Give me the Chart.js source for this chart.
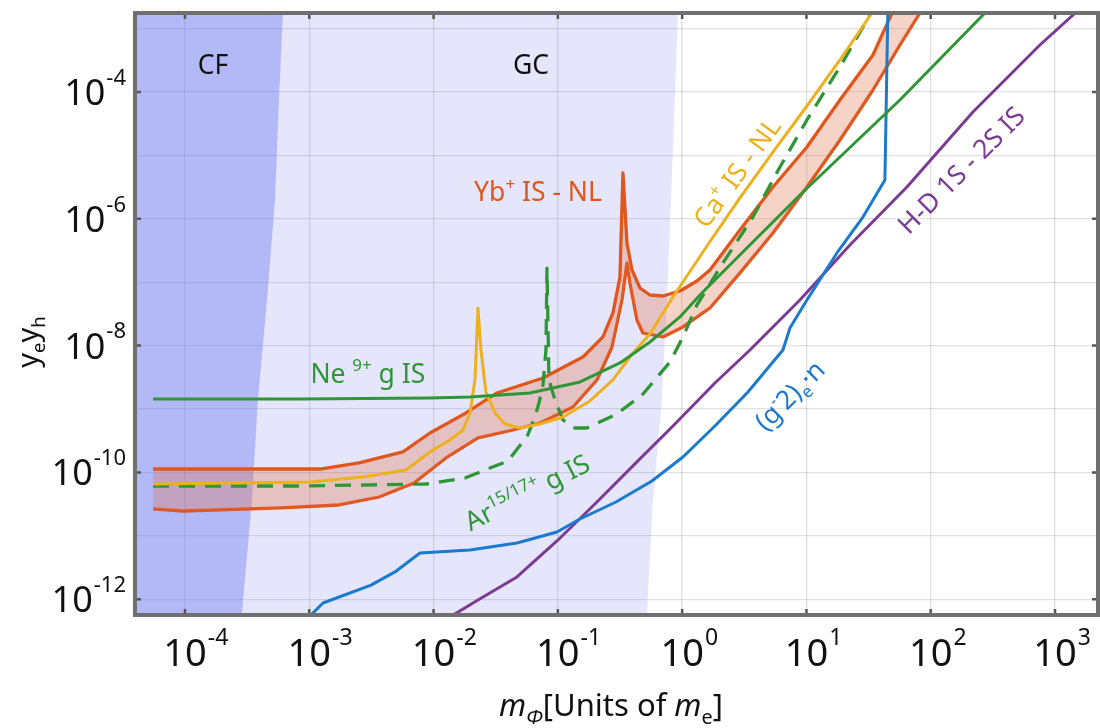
<!DOCTYPE html>
<html>
<head>
<meta charset="utf-8">
<script src="https://cdn.jsdelivr.net/npm/chart.js@4.4.0/dist/chart.umd.min.js"></script>
<style>
  html, body { margin: 0; padding: 0; background: #fff; }
  #wrap { width: 1100px; height: 728px; }
</style>
</head>
<body>
<div id="wrap"><canvas id="chart" width="1100" height="728"></canvas></div>
<script>
// axis limits
const xMin = 3.96e-5, xMax = 2218;
const yMin = 5.63e-13, yMax = 1.762e-3;

// ticks and grid
const xTicks = [1e-4, 1e-3, 1e-2, 1e-1, 1, 10, 100, 1000];
const xTickExp = ['-4', '-3', '-2', '-1', '0', '1', '2', '3'];
const yGrid = [1e-3, 1e-4, 1e-5, 1e-6, 1e-7, 1e-8, 1e-9, 1e-10, 1e-11, 1e-12];
const yTicks = [1e-4, 1e-6, 1e-8, 1e-10, 1e-12];
const yTickExp = ['-4', '-6', '-8', '-10', '-12'];

// shaded regions (right-hand boundary, filled to the left / top)
const gcEdge = [
  { x: 3e-5, y: 4.7e-13 }, { x: 0.518, y: 4.7e-13 }, { x: 0.582, y: 3.67e-11 },
  { x: 0.687, y: 1.39e-9 }, { x: 0.755, y: 5.24e-8 }, { x: 0.843, y: 1.22e-5 },
  { x: 0.925, y: 1.762e-3 }, { x: 0.93, y: 2.5e-3 },
];
const cfEdge = [
  { x: 3e-5, y: 4.7e-13 }, { x: 2.84e-4, y: 4.7e-13 }, { x: 3.46e-4, y: 3.67e-11 },
  { x: 3.86e-4, y: 1.39e-9 }, { x: 4.57e-4, y: 5.24e-8 }, { x: 5.30e-4, y: 1.98e-6 },
  { x: 5.70e-4, y: 7.48e-5 }, { x: 6.14e-4, y: 1.762e-3 }, { x: 6.2e-4, y: 2.5e-3 },
];

// Yb+ IS - NL band
const ybUpper = [
  { x: 5.53e-5, y: 1.13e-10 }, { x: 2.30e-4, y: 1.13e-10 }, { x: 1.22e-3, y: 1.13e-10 },
  { x: 2.51e-3, y: 1.41e-10 }, { x: 5.67e-3, y: 2.10e-10 }, { x: 9.35e-3, y: 4.18e-10 },
  { x: 0.01822, y: 8.65e-10 }, { x: 0.03236, y: 1.79e-9 }, { x: 0.07588, y: 3.08e-9 },
  { x: 0.1592, y: 6.61e-9 }, { x: 0.2306, y: 1.37e-8 }, { x: 0.2774, y: 3.27e-8 },
  { x: 0.316, y: 1.21e-7 }, { x: 0.334, y: 5.28e-6 }, { x: 0.3597, y: 4.15e-7 },
  { x: 0.3946, y: 1.56e-7 }, { x: 0.4575, y: 8.10e-8 }, { x: 0.5507, y: 6.28e-8 },
  { x: 0.7006, y: 6.06e-8 }, { x: 0.960, y: 7.27e-8 }, { x: 1.315, y: 1.045e-7 },
  { x: 1.674, y: 1.56e-7 }, { x: 2.917, y: 6.66e-7 }, { x: 5.377, y: 3.17e-6 },
  { x: 10.09, y: 1.357e-5 }, { x: 18.6, y: 7.48e-5 }, { x: 34.28, y: 3.83e-4 },
  { x: 48.8, y: 1.762e-3 }, { x: 84.9, y: 8.4e-3 },
];
const ybLower = [
  { x: 5.53e-5, y: 2.65e-11 }, { x: 9.63e-5, y: 2.46e-11 }, { x: 5.81e-4, y: 2.75e-11 },
  { x: 1.73e-3, y: 3.06e-11 }, { x: 3.64e-3, y: 4.09e-11 }, { x: 6.96e-3, y: 6.81e-11 },
  { x: 0.01258, y: 1.69e-10 }, { x: 0.02276, y: 3.49e-10 }, { x: 0.04352, y: 4.66e-10 },
  { x: 0.07178, y: 6.01e-10 }, { x: 0.1322, y: 1.075e-9 }, { x: 0.2063, y: 2.87e-9 },
  { x: 0.2723, y: 9.50e-9 }, { x: 0.328, y: 5.24e-8 }, { x: 0.3597, y: 2.01e-7 },
  { x: 0.3802, y: 9.71e-8 }, { x: 0.4329, y: 2.53e-8 }, { x: 0.4838, y: 1.58e-8 },
  { x: 0.7006, y: 1.37e-8 }, { x: 1.015, y: 1.97e-8 }, { x: 1.674, y: 3.92e-8 },
  { x: 2.917, y: 1.40e-7 }, { x: 5.377, y: 5.97e-7 }, { x: 10.09, y: 3.17e-6 },
  { x: 18.6, y: 1.75e-5 }, { x: 34.28, y: 1.075e-4 }, { x: 56.52, y: 5.51e-4 },
  { x: 81.87, y: 1.762e-3 }, { x: 140, y: 8.4e-3 },
];

// Ca+ IS - NL
const caLine = [
  { x: 5.53e-5, y: 6.56e-11 }, { x: 1.01e-3, y: 7.06e-11 }, { x: 2.70e-3, y: 8.46e-11 },
  { x: 6.00e-3, y: 1.09e-10 }, { x: 9.35e-3, y: 2.10e-10 }, { x: 0.01354, y: 3.24e-10 },
  { x: 0.01724, y: 4.66e-10 }, { x: 0.01963, y: 8.65e-10 }, { x: 0.02153, y: 2.87e-9 },
  { x: 0.02276, y: 3.92e-8 }, { x: 0.02406, y: 8.52e-9 }, { x: 0.02639, y: 1.85e-9 },
  { x: 0.03119, y: 8.65e-10 }, { x: 0.03752, y: 5.80e-10 }, { x: 0.04955, y: 5.01e-10 },
  { x: 0.07178, y: 5.80e-10 }, { x: 0.1099, y: 7.48e-10 }, { x: 0.1812, y: 1.34e-9 },
  { x: 0.2774, y: 2.87e-9 }, { x: 0.4019, y: 7.64e-9 }, { x: 0.5507, y: 1.52e-8 },
  { x: 0.8433, y: 5.84e-8 }, { x: 1.583, y: 3.72e-7 }, { x: 2.917, y: 2.13e-6 },
  { x: 5.377, y: 1.13e-5 }, { x: 10.09, y: 6.01e-5 }, { x: 18.6, y: 3.20e-4 },
  { x: 36.24, y: 2.19e-3 },
];

// Ar15/17+ g IS (dashed)
const arLine = [
  { x: 5.53e-5, y: 6.10e-11 }, { x: 8.42e-4, y: 6.10e-11 }, { x: 8.69e-3, y: 6.56e-11 },
  { x: 0.01126, y: 7.06e-11 }, { x: 0.01789, y: 8.16e-11 }, { x: 0.02842, y: 1.17e-10 },
  { x: 0.03967, y: 1.51e-10 }, { x: 0.04775, y: 2.43e-10 }, { x: 0.0564, y: 3.62e-10 },
  { x: 0.06543, y: 7.48e-10 }, { x: 0.07046, y: 1.24e-9 }, { x: 0.07588, y: 2.39e-9 },
  { x: 0.08022, y: 8.52e-9 }, { x: 0.08172, y: 1.67e-7 }, { x: 0.08482, y: 2.87e-9 },
  { x: 0.09477, y: 1.39e-9 }, { x: 0.1099, y: 6.71e-10 }, { x: 0.1373, y: 5.01e-10 },
  { x: 0.1714, y: 5.01e-10 }, { x: 0.2989, y: 8.34e-10 }, { x: 0.4838, y: 1.72e-9 },
  { x: 0.7977, y: 5.51e-9 }, { x: 1.015, y: 1.37e-8 }, { x: 1.315, y: 4.37e-8 },
  { x: 2.129, y: 2.01e-7 }, { x: 3.712, y: 1.067e-6 }, { x: 6.122, y: 6.56e-6 },
  { x: 10.09, y: 3.62e-5 }, { x: 18.6, y: 2.48e-4 }, { x: 34.9, y: 2.11e-3 },
];

// Ne9+ g IS
const neLine = [
  { x: 5.53e-5, y: 1.44e-9 }, { x: 8.42e-4, y: 1.44e-9 }, { x: 9.35e-3, y: 1.49e-9 },
  { x: 0.0196, y: 1.55e-9 }, { x: 0.0596, y: 1.79e-9 }, { x: 0.151, y: 2.67e-9 },
  { x: 0.316, y: 5.32e-9 }, { x: 0.551, y: 1.14e-8 }, { x: 0.96, y: 2.83e-8 },
  { x: 1.39, y: 6.28e-8 }, { x: 8.87, y: 2.37e-6 }, { x: 56.5, y: 7.48e-5 },
  { x: 273, y: 1.762e-3 }, { x: 316, y: 2.35e-3 },
];

// (g-2)e . n
const g2Line = [
  { x: 9.40e-4, y: 4.70e-13 }, { x: 1.29e-3, y: 8.71e-13 }, { x: 3.14e-3, y: 1.67e-12 },
  { x: 4.89e-3, y: 2.69e-12 }, { x: 7.77e-3, y: 5.36e-12 }, { x: 0.01963, y: 5.97e-12 },
  { x: 0.04688, y: 7.70e-12 }, { x: 0.09835, y: 1.15e-11 }, { x: 0.1506, y: 1.84e-11 },
  { x: 0.2934, y: 3.41e-11 }, { x: 0.5715, y: 7.32e-11 }, { x: 1.015, y: 1.75e-10 },
  { x: 1.870, y: 5.59e-10 }, { x: 3.384, y: 1.85e-9 }, { x: 6.471, y: 8.52e-9 },
  { x: 7.367, y: 1.895e-8 }, { x: 10.09, y: 5.24e-8 }, { x: 17.6, y: 2.89e-7 },
  { x: 28.49, y: 1.067e-6 }, { x: 42.81, y: 4.09e-6 }, { x: 45.27, y: 2.35e-3 },
];

// H-D 1S - 2S IS
const hdLine = [
  { x: 0.01236, y: 4.70e-13 }, { x: 0.02276, y: 9.71e-13 }, { x: 0.04688, y: 2.24e-12 },
  { x: 0.09835, y: 8.28e-12 }, { x: 0.2024, y: 3.29e-11 }, { x: 0.4249, y: 1.41e-10 },
  { x: 0.8752, y: 5.80e-10 }, { x: 1.836, y: 2.57e-9 }, { x: 3.512, y: 8.52e-9 },
  { x: 8.866, y: 5.24e-8 }, { x: 22.39, y: 3.86e-7 }, { x: 64.35, y: 3.17e-6 },
  { x: 218.6, y: 4.84e-5 }, { x: 755.9, y: 5.51e-4 }, { x: 1677, y: 2.27e-3 },
];

const ORANGE = '#e0561c';
const YELLOW = '#edb120';
const GREEN = '#2f9637';
const BLUE = '#1a7acb';
const PURPLE = '#7b3b93';
const FONT = '"Noto Sans", "Open Sans", sans-serif';

// parts: [text, mode (0 normal, 1 sup, 2 sub), italic]
const curveLabels = [
  { parts: [['CF', 0]], x: 1.68e-4, y: 2.67e-4, color: '#111', angle: 0 },
  { parts: [['GC', 0]], x: 0.0608, y: 2.67e-4, color: '#111', angle: 0 },
  { parts: [['Yb', 0], ['+', 1], [' IS - NL', 0]], x: 0.0692, y: 2.65e-6, color: ORANGE, angle: 0 },
  { parts: [['Ne ', 0], ['9+', 1], [' g IS', 0]], x: 2.96e-3, y: 3.70e-9, color: GREEN, angle: 0 },
  { parts: [['Ca', 0], ['+', 1], [' IS - NL', 0]], x: 2.75, y: 5.4e-6, color: YELLOW, angle: -54 },
  { parts: [['Ar', 0], ['15/17+', 1], [' g IS', 0]], x: 0.0564, y: 4.91e-11, color: GREEN, angle: -27 },
  { parts: [['(g', 0], ['-', 1], ['2)', 0], ['e', 2], ['\u00b7n', 0]], x: 7.3, y: 1.66e-9, color: BLUE, angle: -45 },
  { parts: [['H-D 1S - 2S IS', 0]], x: 175, y: 5.89e-6, color: PURPLE, angle: -45 },
];

function drawRich(ctx, parts, cx, cy, size, color, angle) {
  const small = size * 0.64;
  const fontOf = (mode, it) => `${it ? 'italic ' : ''}${mode ? small : size}px ${FONT}`;
  ctx.save();
  ctx.translate(cx, cy);
  ctx.rotate(angle * Math.PI / 180);
  ctx.fillStyle = color;
  ctx.textAlign = 'left';
  ctx.textBaseline = 'alphabetic';
  let total = 0;
  const widths = parts.map(([t, mode, it]) => {
    ctx.font = fontOf(mode, it);
    const w = ctx.measureText(t).width;
    total += w;
    return w;
  });
  let x = -total / 2;
  const base = size * 0.36;
  parts.forEach(([t, mode, it], i) => {
    ctx.font = fontOf(mode, it);
    const dy = mode === 1 ? -size * 0.42 : mode === 2 ? size * 0.24 : 0;
    ctx.fillText(t, x, base + dy);
    x += widths[i];
  });
  ctx.restore();
}

function drawPow(ctx, exp, x, baseline, align, size) {
  const sup = Math.round(size * 0.6);
  ctx.font = `${size}px ${FONT}`;
  const wb = ctx.measureText('10').width;
  ctx.font = `${sup}px ${FONT}`;
  const we = ctx.measureText(exp).width;
  const left = align === 'center' ? x - wb / 2 : x - wb - 1 - we;
  ctx.fillStyle = '#111';
  ctx.textAlign = 'left';
  ctx.textBaseline = 'alphabetic';
  ctx.font = `${size}px ${FONT}`;
  ctx.fillText('10', left, baseline);
  ctx.font = `${sup}px ${FONT}`;
  ctx.fillText(exp, left + wb + 1, baseline - size * 0.56);
}

const decorPlugin = {
  id: 'decor',
  afterDraw(chart) {
    const { ctx, chartArea: a, scales: { x, y } } = chart;
    ctx.save();

    // tick marks
    ctx.strokeStyle = '#555';
    ctx.lineWidth = 2.5;
    ctx.beginPath();
    xTicks.forEach((v) => {
      const p = x.getPixelForValue(v);
      ctx.moveTo(p, a.bottom); ctx.lineTo(p, a.bottom - 6);
      ctx.moveTo(p, a.top); ctx.lineTo(p, a.top + 6);
    });
    yTicks.forEach((v) => {
      const p = y.getPixelForValue(v);
      ctx.moveTo(a.left, p); ctx.lineTo(a.left + 6, p);
      ctx.moveTo(a.right, p); ctx.lineTo(a.right - 6, p);
    });
    ctx.stroke();

    // frame
    ctx.strokeStyle = '#6f6f6f';
    ctx.lineWidth = 4;
    ctx.strokeRect(a.left, a.top, a.right - a.left, a.bottom - a.top);

    // tick labels
    xTicks.forEach((v, i) => drawPow(ctx, xTickExp[i], x.getPixelForValue(v), a.bottom + 51, 'center', 38));
    yTicks.forEach((v, i) => drawPow(ctx, yTickExp[i], a.left - 9, y.getPixelForValue(v) + 13, 'right', 36));

    // axis titles
    drawRich(ctx, [['y', 0], ['e', 2], ['y', 0], ['h', 2]], 28, 342, 29, '#111', -90);
    drawRich(ctx, [['m', 0, true], ['\u03a6', 2, true], ['[Units of ', 0], ['m', 0, true], ['e', 2], [']', 0]],
      611, a.bottom + 90, 31, '#111', 0);

    // curve and region labels
    curveLabels.forEach((l) => {
      drawRich(ctx, l.parts, x.getPixelForValue(l.x), y.getPixelForValue(l.y), 26.5, l.color, l.angle);
    });
    ctx.restore();
  },
};

const lineDs = (data, color, extra) => Object.assign({
  data,
  borderColor: color,
  borderWidth: 3,
  pointRadius: 0,
  pointHoverRadius: 0,
  tension: 0,
  fill: false,
  borderJoinStyle: 'round',
}, extra);

new Chart(document.getElementById('chart'), {
  type: 'line',
  data: {
    datasets: [
      { data: gcEdge, borderWidth: 0, borderColor: 'transparent', pointRadius: 0,
        backgroundColor: 'rgba(118,124,232,0.19)', fill: 'end', order: 10 },
      { data: cfEdge, borderWidth: 0, borderColor: 'transparent', pointRadius: 0,
        backgroundColor: 'rgba(110,118,240,0.41)', fill: 'end', order: 9 },
      lineDs(ybUpper, ORANGE, { borderWidth: 3.3, fill: '+1', backgroundColor: 'rgba(225,110,70,0.30)', order: 5 }),
      lineDs(ybLower, ORANGE, { borderWidth: 3.3, order: 5 }),
      lineDs(caLine, YELLOW, { order: 2 }),
      lineDs(arLine, GREEN, { borderWidth: 3.3, borderDash: [16, 10], order: 2 }),
      lineDs(neLine, GREEN, { order: 1 }),
      lineDs(g2Line, BLUE, { order: 1 }),
      lineDs(hdLine, PURPLE, { order: 1 }),
    ],
  },
  options: {
    responsive: false,
    animation: false,
    events: [],
    layout: { padding: { left: 135, right: 2, top: 13, bottom: 113 } },
    scales: {
      x: {
        type: 'logarithmic',
        min: xMin,
        max: xMax,
        bounds: 'data',
        afterBuildTicks: (axis) => { axis.ticks = xTicks.map((v) => ({ value: v })); },
        ticks: { display: false },
        grid: { color: 'rgba(0,0,0,0.12)', lineWidth: 1.3, drawTicks: false },
        border: { display: false },
      },
      y: {
        type: 'logarithmic',
        min: yMin,
        max: yMax,
        bounds: 'data',
        afterBuildTicks: (axis) => { axis.ticks = yGrid.map((v) => ({ value: v })); },
        ticks: { display: false },
        grid: { color: 'rgba(0,0,0,0.12)', lineWidth: 1.3, drawTicks: false },
        border: { display: false },
      },
    },
    plugins: {
      legend: { display: false },
      tooltip: { enabled: false },
    },
  },
  plugins: [decorPlugin],
});
</script>
</body>
</html>
